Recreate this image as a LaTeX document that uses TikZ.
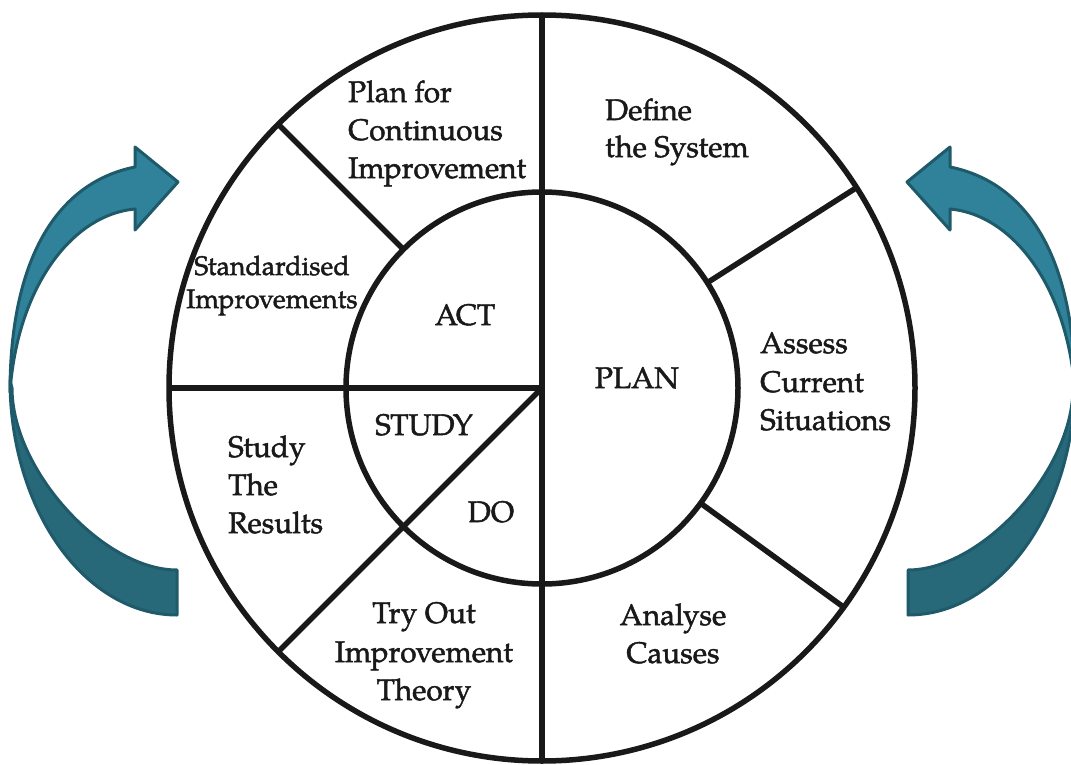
\documentclass[tikz,border=0pt]{standalone}
\usepackage{fontspec}
\setmainfont{TeX Gyre Pagella}
\newfontfamily\wheelfont{TeX Gyre Pagella}[FakeBold=1.6]
\usetikzlibrary{calc}
\definecolor{arrowLight}{RGB}{47,130,153}
\definecolor{arrowDark}{RGB}{39,104,121}
\definecolor{arrowEdge}{RGB}{31,90,106}
\newcommand{\cycleArrowShape}{%
  % lower (back) part of the curved arrow
  \filldraw[arrowstroke, fill=arrowDark]
    (10,-380) .. controls (10,-510) and (85,-615) .. (177,-615)
    -- (177,-570)
    .. controls (103,-570) and (12,-470) .. (12,-388)
    -- cycle;
  % upper (front) part with the head
  \filldraw[arrowstroke, fill=arrowLight]
    (10,-392) .. controls (10,-262) and (55,-183) .. (135,-167)
    -- (135,-147) -- (178,-182) -- (135,-230) -- (135,-209)
    .. controls (70,-215) and (17,-290) .. (10,-392)
    -- cycle;
}
\begin{document}
\begin{tikzpicture}[x=1pt,y=1pt,
  ring/.style={line width=5.5pt, draw=black!90},
  lbl/.style={inner sep=0pt, font=\wheelfont\fontsize{29.7}{38}\selectfont, text=black!90},
  lbls/.style={inner sep=0pt, font=\wheelfont\fontsize{26.7}{33}\selectfont, text=black!90},
  arrowstroke/.style={draw=arrowEdge, line width=3pt, line join=round}]
\useasboundingbox (0,0) rectangle (1071,-765);
\fill[white] (0,0) rectangle (1071,-765);

% cycle arrows
\cycleArrowShape
\begin{scope}[shift={(1085,0)}, xscale=-1]
  \cycleArrowShape
\end{scope}

% wheel
\coordinate (C) at (542,-388);
\draw[ring] (C) circle (373);
\draw[ring] (C) circle (196);
\draw[ring] ($(C)+(0,373)$) -- ($(C)+(0,-373)$);
\draw[ring] (C) -- ++(180:373);
\draw[ring] (C) -- ++(225:373);
\draw[ring] ($(C)+(135:196)$) -- ($(C)+(135:373)$);
\draw[ring] ($(C)+(32.5:196)$) -- ($(C)+(32.5:373)$);
\draw[ring] ($(C)+(-36:196)$) -- ($(C)+(-36:373)$);

% outer ring labels
\node[lbl, anchor=base west] (pc1) at (348,-102) {Plan for};
\node[lbl, anchor=base west] (pc2) at (348,-140) {Continuous};
\node[lbl, anchor=base west] (pc3) at (348,-178) {Improvement};

\node[lbl, anchor=base west] (ds1) at (605,-120) {Define};
\node[lbl, anchor=base west] (ds2) at (605,-157) {the System};

\node[lbls, anchor=base] (si1) at (272,-275) {Standardised};
\node[lbls, anchor=base] (si2) at (272,-308) {Improvements};

\node[lbl, anchor=base west] (ac1) at (760,-353) {Assess};
\node[lbl, anchor=base west] (ac2) at (760,-392) {Current};
\node[lbl, anchor=base west] (ac3) at (760,-430) {Situations};

\node[lbl, anchor=base west] (sr1) at (228,-457) {Study};
\node[lbl, anchor=base west] (sr2) at (228,-495) {The};
\node[lbl, anchor=base west] (sr3) at (228,-533) {Results};

\node[lbl, anchor=base] (to1) at (424,-623) {Try Out};
\node[lbl, anchor=base] (to2) at (424,-662) {Improvement};
\node[lbl, anchor=base] (to3) at (424,-700) {Theory};

\node[lbl, anchor=base] (an1) at (673,-625) {Analyse};
\node[lbl, anchor=base] (an2) at (673,-663) {Causes};

% inner labels
\node[lbl, anchor=base] (act) at (465,-325) {ACT};
\node[lbl, anchor=base] (plan) at (637,-388) {PLAN};
\node[lbl, anchor=base] (study) at (424,-435) {STUDY};
\node[lbl, anchor=base] (do) at (491,-522) {DO};
\end{tikzpicture}
\end{document}
